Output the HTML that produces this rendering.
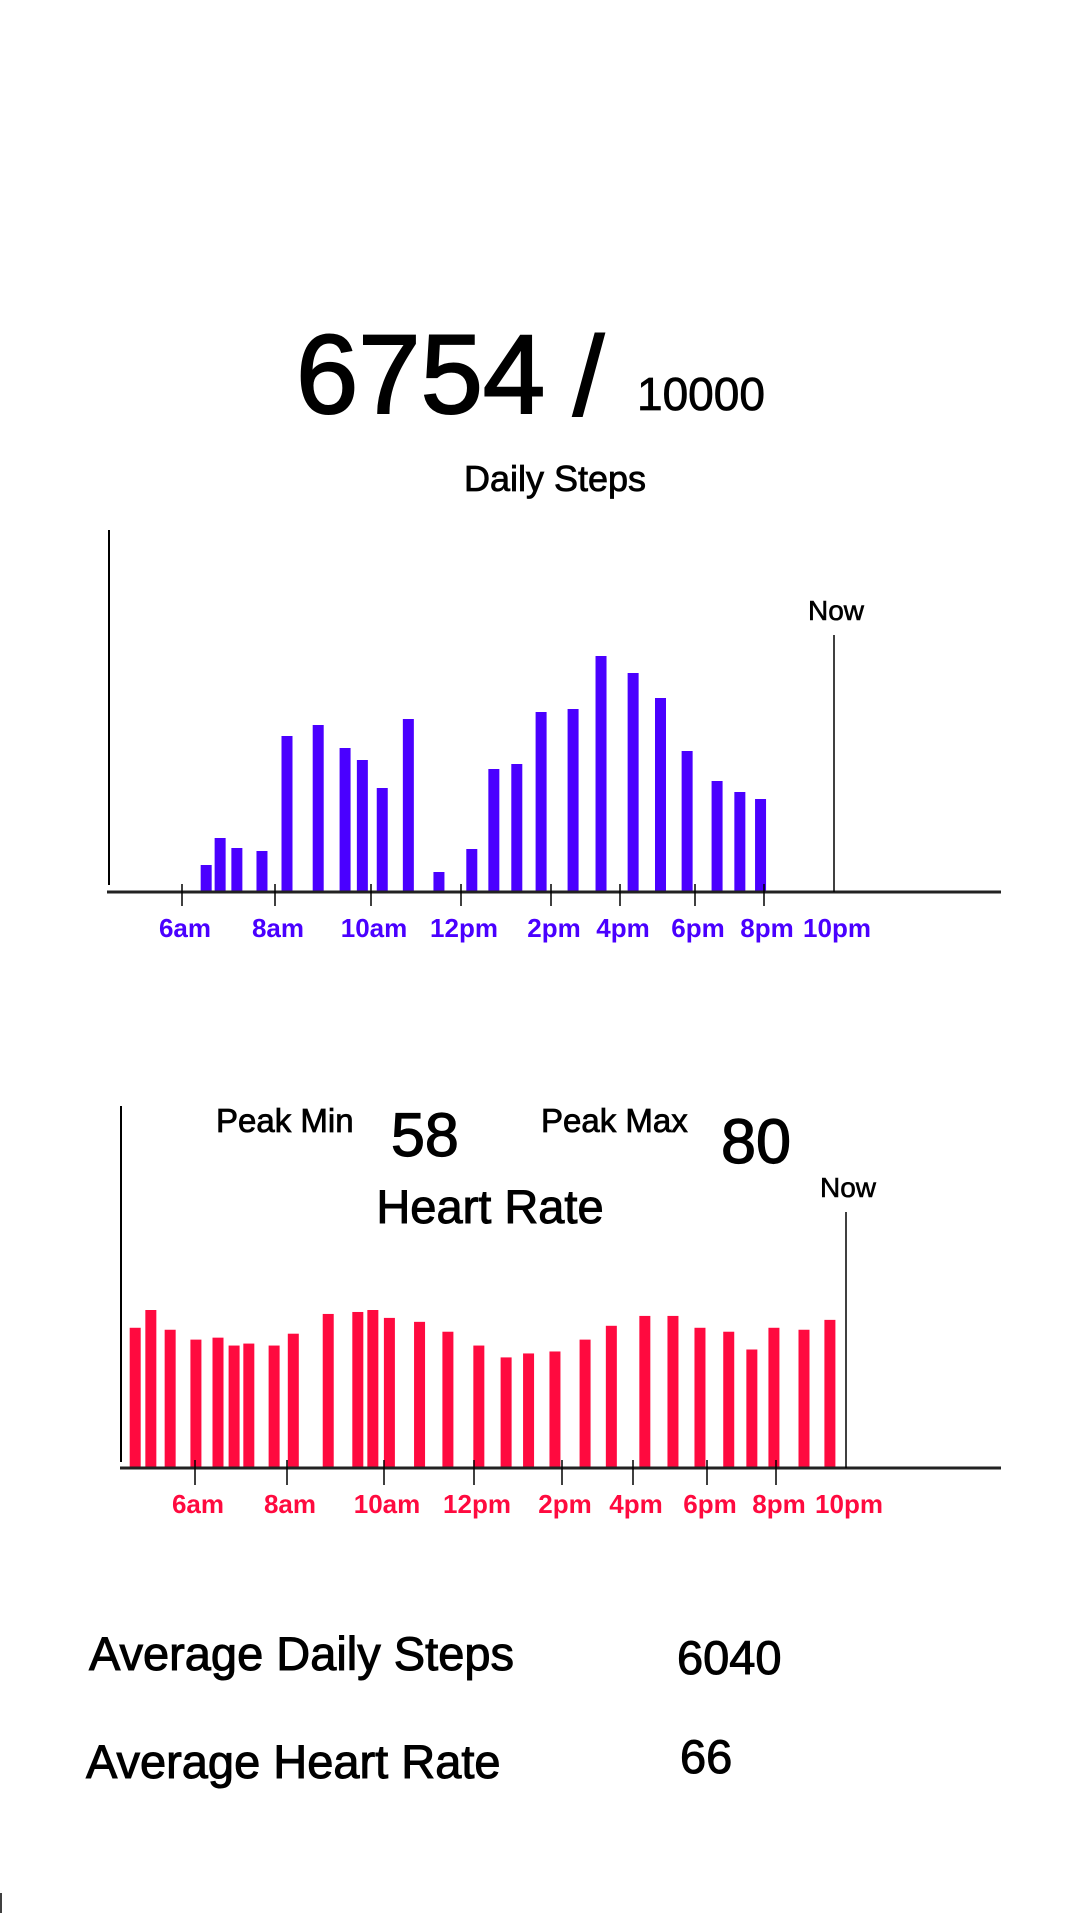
<!DOCTYPE html>
<html><head><meta charset="utf-8"><style>
html,body{margin:0;padding:0;background:#fff;}
svg{display:block;}
text{font-family:"Liberation Sans",sans-serif;}
</style></head><body>
<svg id="s" width="1080" height="1920" viewBox="0 0 1080 1920" xmlns="http://www.w3.org/2000/svg">
<text x="296" y="413" font-size="112" stroke="#000" stroke-width="2">6754</text>
<text x="573" y="415" font-size="112" stroke="#000" stroke-width="2">/</text>
<text x="637" y="410" font-size="46" stroke="#000" stroke-width="0.8">10000</text>
<text x="555" y="491" font-size="36" stroke="#000" stroke-width="0.8" text-anchor="middle">Daily Steps</text>

<text x="216" y="1132" font-size="33" stroke="#000" stroke-width="0.8">Peak Min</text>
<text x="391" y="1156" font-size="61" stroke="#000" stroke-width="1.2">58</text>
<text x="541" y="1132" font-size="33" stroke="#000" stroke-width="0.8">Peak Max</text>
<text x="721" y="1163" font-size="63" stroke="#000" stroke-width="1.2">80</text>
<text x="490" y="1223" font-size="47" stroke="#000" stroke-width="1" text-anchor="middle">Heart Rate</text>

<text x="89" y="1670" font-size="47" stroke="#000" stroke-width="1">Average Daily Steps</text>
<text x="677" y="1674" font-size="47" stroke="#000" stroke-width="1">6040</text>
<text x="86" y="1778" font-size="47" stroke="#000" stroke-width="1">Average Heart Rate</text>
<text x="680" y="1773" font-size="47" stroke="#000" stroke-width="1">66</text>
<line x1="1" y1="1893" x2="1" y2="1913" stroke="#000" stroke-width="1.5"/>
</svg>
<script>
// ---- Steps data ----
const stepHours = [6.52,6.82,7.18,7.72,8.25,8.9,9.46,9.82,10.25,10.83,11.51,12.24,12.73,13.24,13.78,14.64,15.45,16.35,17.08,17.79,18.64,19.3,19.9];
const stepValues = [108,216,176,164,624,668,576,528,416,692,80,172,492,512,720,732,944,876,776,564,444,400,372];
const tickHours = [6,8,10,12,14,16,18,20,22];
const tickLabels = ["6am","8am","10am","12pm","2pm","4pm","6pm","8pm","10pm"];
const nowHour = 22;
// ---- Heart data ----
const heartHours = [4.70,5.04,5.46,6.02,6.5,6.85,7.17,7.72,8.13,8.85,9.46,9.77,10.12,10.79,11.42,12.11,12.73,13.24,13.84,14.65,15.39,16.32,17.08,17.81,18.63,19.3,19.94,20.8,21.54];
const heartValues = [71,80,70,65,66,62,63,62,68,78,79,80,76,74,69,62,56,58,59,65,72,77,77,71,69,60,71,70,75];

const svg = document.getElementById('s');
const NS = 'http://www.w3.org/2000/svg';
function mk(tag, attrs){const e=document.createElementNS(NS,tag);for(const k in attrs)e.setAttribute(k,attrs[k]);svg.appendChild(e);return e;}
function piece(knots, px){
  return function(h){
    let i=0; while(i<knots.length-2 && h>knots[i+1]) i++;
    return px[i]+(h-knots[i])*(px[i+1]-px[i])/(knots[i+1]-knots[i]);
  };
}
const sx = piece([6,8,10,12,14,16,18,20,22],[182,275,371,461,551,620,695,764,834]);
const hx = piece([6,8,10,12,14,16,18,20,22],[195,287,384,474,562,633,707,776,846]);
const sBase = 892, hBase = 1468;
const sy = v => sBase - v*0.25;
const hy = v => hBase - v*1.975;

let e;
e=mk('line',{x1:109,y1:530,x2:109,y2:885,stroke:'#000','stroke-width':2});


stepHours.forEach((h,i)=>{
  const r=mk('rect',{x:sx(h)-5.5,y:sy(stepValues[i]),width:11,height:sBase-sy(stepValues[i]),fill:'#4a00ff'});
  
  
});
e=mk('line',{x1:107,y1:sBase,x2:1001,y2:sBase,stroke:'#222','stroke-width':3});


tickHours.forEach((h,i)=>{
  if(h<nowHour){
    const t=mk('line',{x1:sx(h),y1:884,x2:sx(h),y2:906,stroke:'#000','stroke-width':1.5});
    
    
  }
  const l=mk('text',{x:sx(h)+3,y:937,'font-size':26,'font-weight':'bold',fill:'#4a00ff','text-anchor':'middle'});
  l.textContent=tickLabels[i];
  
  
});
e=mk('line',{x1:sx(nowHour),y1:635,x2:sx(nowHour),y2:sBase,stroke:'#000','stroke-width':1.5});


e=mk('text',{x:sx(nowHour)+2,y:620,'font-size':28,stroke:'#000','stroke-width':0.6,'text-anchor':'middle'});
e.textContent='Now';



e=mk('line',{x1:121,y1:1106,x2:121,y2:1462,stroke:'#000','stroke-width':2});


heartHours.forEach((h,i)=>{
  const r=mk('rect',{x:hx(h)-5.5,y:hy(heartValues[i]),width:11,height:hBase-hy(heartValues[i]),fill:'#ff0a3f'});
  
  
});
e=mk('line',{x1:120,y1:hBase,x2:1001,y2:hBase,stroke:'#222','stroke-width':3});


tickHours.forEach((h,i)=>{
  if(h<nowHour){
    const t=mk('line',{x1:hx(h),y1:1460,x2:hx(h),y2:1485,stroke:'#000','stroke-width':1.5});
    
    
  }
  const l=mk('text',{x:hx(h)+3,y:1513,'font-size':26,'font-weight':'bold',fill:'#ff0a3f','text-anchor':'middle'});
  l.textContent=tickLabels[i];
  
  
});
e=mk('line',{x1:hx(nowHour),y1:1212,x2:hx(nowHour),y2:hBase,stroke:'#000','stroke-width':1.5});


e=mk('text',{x:hx(nowHour)+2,y:1197,'font-size':28,stroke:'#000','stroke-width':0.6,'text-anchor':'middle'});
e.textContent='Now';


</script>
</body></html>
